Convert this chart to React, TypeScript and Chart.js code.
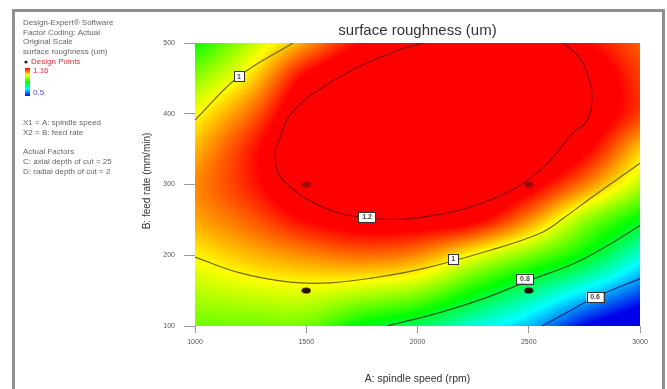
import React, { useEffect, useRef } from "react";
import { Chart, registerables } from "chart.js";
Chart.register(...registerables);

// ---- data ----
const xGrid = [1000, 1250, 1500, 1750, 2000, 2250, 2500, 2750, 3000];
const yGrid = [100, 150, 200, 250, 300, 350, 400, 450, 500];
// surface roughness estimates, one row per feed rate (y), columns follow xGrid
const z100 = [0.9, 0.9, 0.9, 0.82, 0.77, 0.69, 0.62, 0.5, 0.42];
const z150 = [0.95, 0.97, 0.98, 0.96, 0.93, 0.84, 0.75, 0.66, 0.56];
const z200 = [1.0, 1.04, 1.07, 1.09, 1.07, 0.99, 0.91, 0.82, 0.69];
const z250 = [1.05, 1.1, 1.16, 1.19, 1.19, 1.17, 1.07, 0.93, 0.82];
const z300 = [1.07, 1.14, 1.22, 1.26, 1.25, 1.23, 1.18, 1.08, 0.95];
const z350 = [1.04, 1.14, 1.24, 1.28, 1.28, 1.27, 1.23, 1.17, 1.03];
const z400 = [0.99, 1.09, 1.22, 1.27, 1.28, 1.28, 1.25, 1.21, 1.12];
const z450 = [0.92, 1.02, 1.17, 1.23, 1.25, 1.27, 1.24, 1.21, 1.12];
const z500 = [0.83, 0.95, 1.06, 1.16, 1.2, 1.23, 1.21, 1.16, 1.1];
const zRows = [z100, z150, z200, z250, z300, z350, z400, z450, z500];
const colorMin = 0.5;
const colorMax = 1.16;

// contour lines
const c12X = [2654, 2730, 2775, 2784, 2762, 2699, 2551, 2326, 2025, 1773, 1575, 1396, 1360, 1382, 1427, 1548, 1728, 1908, 2025];
const c12Y = [500, 479, 446, 422, 390, 373, 320, 278, 254, 253, 268, 306, 339, 366, 398, 432, 465, 489, 500];
const c10aX = [1000, 1198, 1440];
const c10aY = [391, 453, 500];
const c10bX = [1000, 1202, 1427, 1607, 1800, 2025, 2326, 2551, 2654, 2775, 3000];
const c10bY = [197.5, 175, 162, 161, 168, 181, 207, 231, 252, 280, 330];
const c08X = [1863, 2100, 2300, 2500, 2700, 2850, 3000];
const c08Y = [100, 119, 139, 164, 188, 213, 242];
const c06X = [2560, 2700, 2800, 3000];
const c06Y = [100, 124, 141, 167];

const labelText = ["1", "1", "0.8", "0.6", "1.2"];
const labelX = [1198, 2160, 2483, 2798, 1773];
const labelY = [453, 195, 167, 141, 254];

const designX = [1500, 2500, 1500, 2500];
const designY = [300, 300, 150, 150];

const xTicks = [1000, 1500, 2000, 2500, 3000];
const yTicks = [100, 200, 300, 400, 500];

const FONT = "'Liberation Sans', Arial, sans-serif";

const stops: [number, number[]][] = [
  [0, [0, 0, 235]],
  [0.25, [0, 255, 255]],
  [0.5, [0, 255, 0]],
  [0.75, [255, 255, 0]],
  [1, [255, 0, 0]],
];
function colorFor(v: number): number[] {
  let t = (v - colorMin) / (colorMax - colorMin);
  t = Math.max(0, Math.min(1, t));
  for (let i = 0; i < stops.length - 1; i++) {
    const [t0, c0] = stops[i];
    const [t1, c1] = stops[i + 1];
    if (t <= t1) {
      const f = (t - t0) / (t1 - t0);
      return [0, 1, 2].map((k) => c0[k] + (c1[k] - c0[k]) * f);
    }
  }
  return stops[stops.length - 1][1];
}

function findCell(grid: number[], v: number): [number, number] {
  let i = 0;
  while (i < grid.length - 2 && v > grid[i + 1]) i++;
  let f = (v - grid[i]) / (grid[i + 1] - grid[i]);
  f = Math.max(0, Math.min(1, f));
  return [i, f];
}
// Catmull-Rom smoothing between the read grid nodes (rendering only)
function cr(p0: number, p1: number, p2: number, p3: number, t: number) {
  return 0.5 * (2 * p1 + (-p0 + p2) * t + (2 * p0 - 5 * p1 + 4 * p2 - p3) * t * t + (-p0 + 3 * p1 - 3 * p2 + p3) * t * t * t);
}
function node(j: number, i: number) {
  const jj = Math.max(0, Math.min(yGrid.length - 1, j));
  const ii = Math.max(0, Math.min(xGrid.length - 1, i));
  // linear extrapolation at the borders
  if (i < 0) return 2 * node(j, 0) - node(j, 1);
  if (i > xGrid.length - 1) return 2 * node(j, xGrid.length - 1) - node(j, xGrid.length - 2);
  if (j < 0) return 2 * node(0, ii) - node(1, ii);
  if (j > yGrid.length - 1) return 2 * node(yGrid.length - 1, ii) - node(yGrid.length - 2, ii);
  return zRows[jj][ii];
}
function sample(xv: number, yv: number): number {
  const [i, fx] = findCell(xGrid, xv);
  const [j, fy] = findCell(yGrid, yv);
  const col: number[] = [];
  for (let m = -1; m <= 2; m++) {
    col.push(cr(node(j + m, i - 1), node(j + m, i), node(j + m, i + 1), node(j + m, i + 2), fx));
  }
  return cr(col[0], col[1], col[2], col[3], fy);
}

const heatmapPlugin = {
  id: "heatmap",
  beforeDatasetsDraw(chart: any) {
    const { ctx, chartArea: a, scales } = chart;
    const xs = scales.x, ys = scales.y;
    const w = Math.round(a.right - a.left);
    const h = Math.round(a.bottom - a.top);
    const off = document.createElement("canvas");
    off.width = w;
    off.height = h;
    const octx = off.getContext("2d")!;
    const img = octx.createImageData(w, h);
    for (let j = 0; j < h; j++) {
      const yv = ys.getValueForPixel(a.top + j + 0.5);
      for (let i = 0; i < w; i++) {
        const xv = xs.getValueForPixel(a.left + i + 0.5);
        const c = colorFor(sample(xv, yv));
        const p = (j * w + i) * 4;
        img.data[p] = c[0];
        img.data[p + 1] = c[1];
        img.data[p + 2] = c[2];
        img.data[p + 3] = 255;
      }
    }
    octx.putImageData(img, 0, 0);
    ctx.drawImage(off, a.left, a.top);
  },
};

const labelPlugin = {
  id: "contourLabels",
  afterDatasetsDraw(chart: any) {
    const { ctx, scales } = chart;
    ctx.save();
    ctx.font = `bold 7px ${FONT}`;
    ctx.textAlign = "center";
    ctx.textBaseline = "middle";
    labelText.forEach((t, k) => {
      const px = scales.x.getPixelForValue(labelX[k]);
      const py = scales.y.getPixelForValue(labelY[k]);
      const bw = t.length > 1 ? 17 : 10;
      const bh = 10;
      ctx.fillStyle = "#ffffff";
      ctx.fillRect(px - bw / 2, py - bh / 2, bw, bh);
      ctx.strokeStyle = "#333";
      ctx.lineWidth = 1;
      ctx.strokeRect(Math.round(px - bw / 2) + 0.5, Math.round(py - bh / 2) + 0.5, bw, bh);
      ctx.fillStyle = "#444";
      ctx.fillText(t, px, py + 0.5);
    });
    ctx.restore();
  },
};

const textPlugin = {
  id: "texts",
  afterDraw(chart: any) {
    const { ctx, chartArea: a } = chart;
    ctx.save();
    ctx.fillStyle = "#333";
    ctx.font = `15px ${FONT}`;
    ctx.textAlign = "center";
    ctx.textBaseline = "middle";
    ctx.fillText("surface roughness (um)", (a.left + a.right) / 2, 31);
    ctx.font = `10.5px ${FONT}`;
    ctx.fillText("A: spindle speed (rpm)", (a.left + a.right) / 2, 379);
    ctx.save();
    ctx.translate(147, 181);
    ctx.rotate(-Math.PI / 2);
    ctx.font = `10px ${FONT}`;
    ctx.fillText("B: feed rate (mm/min)", 0, 0);
    ctx.restore();

    ctx.textAlign = "left";
    ctx.font = `8px ${FONT}`;
    ctx.fillStyle = "#666";
    const lines1 = ["Design-Expert\u00ae Software", "Factor Coding: Actual", "Original Scale", "surface roughness (um)"];
    lines1.forEach((s, i) => ctx.fillText(s, 23, 23 + i * 9.6));
    ctx.fillStyle = "#222";
    ctx.beginPath();
    ctx.arc(26, 62, 1.6, 0, Math.PI * 2);
    ctx.fill();
    ctx.fillStyle = "#e0303a";
    ctx.fillText("Design Points", 31, 62);
    const g = ctx.createLinearGradient(0, 68, 0, 96);
    g.addColorStop(0, "#ff0000");
    g.addColorStop(0.25, "#ffff00");
    g.addColorStop(0.5, "#00ff00");
    g.addColorStop(0.75, "#00ffff");
    g.addColorStop(1, "#0000ff");
    ctx.fillStyle = g;
    ctx.fillRect(25, 68, 5, 28);
    ctx.fillStyle = "#e0303a";
    ctx.fillText("1.16", 33, 71);
    ctx.fillStyle = "#4a4ad0";
    ctx.fillText("0.5", 33, 93);
    ctx.fillStyle = "#666";
    ctx.fillText("X1 = A: spindle speed", 23, 123);
    ctx.fillText("X2 = B: feed rate", 23, 132.5);
    ctx.fillText("Actual Factors", 23, 152);
    ctx.fillText("C: axial depth of cut = 25", 23, 162);
    ctx.fillText("D: radial depth of cut = 2", 23, 172);
    ctx.restore();
  },
};

function makeDot(color: string): HTMLCanvasElement {
  const c = document.createElement("canvas");
  c.width = 10;
  c.height = 7;
  const x = c.getContext("2d")!;
  x.fillStyle = color;
  x.beginPath();
  x.ellipse(5, 3.5, 4.6, 3, 0, 0, Math.PI * 2);
  x.fill();
  return c;
}

function pts(xs: number[], ys: number[]) {
  return xs.map((x, i) => ({ x, y: ys[i] }));
}

export default function App() {
  const ref = useRef<HTMLCanvasElement>(null);
  useEffect(() => {
    if (!ref.current) return;
    const lineDs = (data: any[], color: string) => ({
      data,
      showLine: true,
      borderColor: color,
      borderWidth: 1.2,
      pointRadius: 0,
      tension: 0.4,
      fill: false,
    });
    const upperDot = makeDot("#9a0a0a");
    const lowerDot = makeDot("#2a0c04");
    const chart = new Chart(ref.current, {
      type: "scatter",
      data: {
        datasets: [
          lineDs(pts(c12X, c12Y), "#8a0000"),
          lineDs(pts(c10aX, c10aY), "#6a6a00"),
          lineDs(pts(c10bX, c10bY), "#6a6a00"),
          lineDs(pts(c08X, c08Y), "#1a5a1a"),
          lineDs(pts(c06X, c06Y), "#102a80"),
          {
            data: pts(designX, designY),
            pointStyle: [upperDot, upperDot, lowerDot, lowerDot] as any,
            pointRadius: 4,
            showLine: false,
          } as any,
        ],
      },
      options: {
        animation: false,
        responsive: false,
        events: [],
        layout: { padding: { top: 43, right: 27, left: 0, bottom: 0 } },
        plugins: { legend: { display: false }, tooltip: { enabled: false }, title: { display: false } },
        scales: {
          x: {
            type: "linear",
            min: 1000,
            max: 3000,
            afterFit: (s: any) => {
              s.height = 63;
            },
            afterBuildTicks: (s: any) => {
              s.ticks = xTicks.map((v) => ({ value: v }));
            },
            ticks: { font: { size: 7, family: FONT }, color: "#555", padding: 5, maxRotation: 0, callback: (v: any) => String(v) },
            grid: { drawOnChartArea: false, drawTicks: true, tickLength: 7, color: "#999" },
            border: { display: false },
          },
          y: {
            type: "linear",
            min: 100,
            max: 500,
            afterFit: (s: any) => {
              s.width = 195;
            },
            afterBuildTicks: (s: any) => {
              s.ticks = yTicks.map((v) => ({ value: v }));
            },
            ticks: { font: { size: 7, family: FONT }, color: "#555", padding: 9, callback: (v: any) => String(v) },
            grid: { drawOnChartArea: false, drawTicks: true, tickLength: 11, color: "#999" },
            border: { display: false },
          },
        },
      },
      plugins: [heatmapPlugin, labelPlugin, textPlugin],
    });
    return () => chart.destroy();
  }, []);
  return (
    <div style={{ position: "fixed", left: 0, top: 0, width: 667, height: 389, background: "#fff", overflow: "hidden" }}>
      <div
        style={{
          position: "absolute",
          left: 12,
          top: 9,
          width: 653,
          height: 420,
          border: "3px solid #8f8f8f",
          boxSizing: "border-box",
        }}
      />
      <canvas ref={ref} width={667} height={389} style={{ position: "absolute", left: 0, top: 0 }} />
    </div>
  );
}
